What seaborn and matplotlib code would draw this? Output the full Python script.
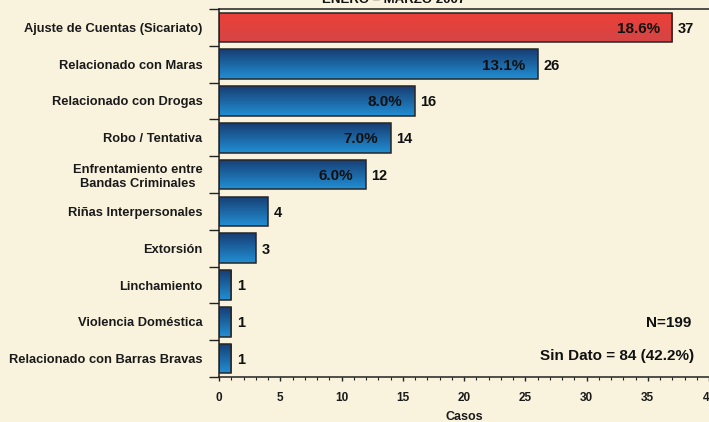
import numpy as np
import matplotlib
matplotlib.use("Agg")
import matplotlib.pyplot as plt
import seaborn as sns

categorias = ["Ajuste de Cuentas (Sicariato)", "Relacionado con Maras", "Relacionado con Drogas",
              "Robo / Tentativa", "Enfrentamiento entre\nBandas Criminales", "Riñas Interpersonales",
              "Extorsión", "Linchamiento", "Violencia Doméstica", "Relacionado con Barras Bravas"]
casos = [37, 26, 16, 14, 12, 4, 3, 1, 1, 1]
porcentajes = ["18.6%", "13.1%", "8.0%", "7.0%", "6.0%", "", "", "", "", ""]
titulo = "ENERO – MARZO 2007"
nota_n = "N=199"
nota_sd = "Sin Dato = 84 (42.2%)"

bg = "#f9f3de"
sns.set_style("white")
plt.rcParams["font.family"] = ["Liberation Sans", "DejaVu Sans"]
plt.rcParams["font.weight"] = "bold"

fig, ax = plt.subplots(figsize=(7.09, 4.22), dpi=100)
fig.patch.set_facecolor(bg)
ax.set_facecolor(bg)
fig.subplots_adjust(left=219 / 709, right=1.0, top=1 - 9 / 422, bottom=1 - 377 / 422)

sns.barplot(x=casos, y=categorias, orient="h", color="#1f6fb0", width=0.8,
            edgecolor="#262626", linewidth=1.1, ax=ax)

# vertical gradient inside each bar
blue = np.array([[0.09, 0.24, 0.45], [0.13, 0.56, 0.83]])
red = np.array([[0.93, 0.25, 0.22], [0.83, 0.27, 0.27]])
for i, p in enumerate(ax.patches):
    c = red if i == 0 else blue
    t = np.linspace(0, 1, 64)[:, None]
    grad = (c[0] * (1 - t) + c[1] * t)[:, None, :]
    x0, y0 = p.get_x(), p.get_y()
    w, h = p.get_width(), p.get_height()
    im = ax.imshow(grad, extent=(x0, x0 + w, y0 + h, y0), origin="upper",
                   aspect="auto", zorder=p.get_zorder() - 0.1, interpolation="bilinear")
    im.set_clip_path(p)
    p.set_facecolor("none")

ax.set_xlim(0, 40)
ax.set_ylim(len(categorias) - 0.5, -0.5)

for i, (v, pc) in enumerate(zip(casos, porcentajes)):
    ax.annotate(str(v), (v, i), xytext=(4, -1), textcoords="offset points",
                ha="left", va="center", fontsize=10.5, fontweight="bold", color="#111111")
    if pc:
        ax.annotate(pc, (v, i), xytext=(-9, -1), textcoords="offset points",
                    ha="right", va="center", fontsize=11, fontweight="bold", color="#111111")

# y axis: ticks at category boundaries, labels at centers
ax.set_yticks(np.arange(len(categorias) + 1) - 0.5)
ax.set_yticklabels([])
ax.set_yticks(np.arange(len(categorias)), minor=True)
ax.set_yticklabels(categorias, minor=True, fontsize=9.3, fontweight="bold",
                   multialignment="center", color="#1a1a1a")
ax.tick_params(axis="y", which="major", length=7, width=1, color="#222222", left=True)
ax.tick_params(axis="y", which="minor", length=0, pad=12)

ax.set_xticks(np.arange(0, 41, 5))
ax.set_xticks(np.arange(0, 41, 1), minor=True)
ax.set_xticklabels([str(v) for v in range(0, 41, 5)], fontsize=8.5, fontweight="bold", color="#1a1a1a")
ax.tick_params(axis="x", which="major", length=3, width=1, color="#222222", pad=8, bottom=True)
ax.tick_params(axis="x", which="minor", length=2, width=0.8, color="#222222", bottom=True)
ax.set_xlabel("Casos", fontsize=9, fontweight="bold", labelpad=5, color="#1a1a1a")
ax.set_ylabel("")

for s in ["left", "bottom", "top"]:
    ax.spines[s].set_visible(True)
    ax.spines[s].set_color("#222222")
    ax.spines[s].set_linewidth(1.1)
ax.spines["right"].set_visible(False)

ax.text(0.965, 0.148, nota_n, transform=ax.transAxes, ha="right", va="center",
        fontsize=11, fontweight="bold", color="#111111")
ax.text(0.97, 0.058, nota_sd, transform=ax.transAxes, ha="right", va="center",
        fontsize=11, fontweight="bold", color="#111111")

fig.text(0.555, 1.0, titulo, ha="center", va="center", fontsize=9.5, fontweight="bold", color="#111111")

fig.savefig("out.png", dpi=100, facecolor=bg)
